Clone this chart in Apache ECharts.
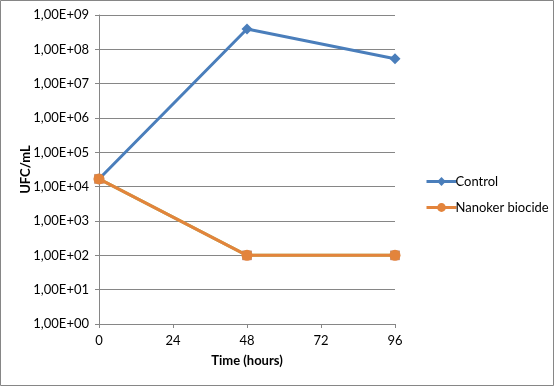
<!DOCTYPE html>
<html>
<head>
<meta charset="utf-8">
<script src="https://cdn.jsdelivr.net/npm/echarts@6/dist/echarts.min.js"></script>
<style>
html,body{margin:0;padding:0;background:#fff;}
#c{width:555px;height:387px;}
</style>
</head>
<body>
<div id="c"></div>
<script>
var hours = [0, 48, 96];
var controlValues = [16800, 390000000, 53000000];
var nanokerValues = [16800, 100, 100];
var hiddenValues = [16800, 100, 100];
var xTicks = [0, 24, 48, 72, 96];

var FONT = 'Lato';
var chart = echarts.init(document.getElementById('c'), null, {renderer: 'canvas'});

function pairs(xs, ys) { return xs.map(function (x, i) { return [x, ys[i]]; }); }

chart.setOption({
  animation: false,
  backgroundColor: '#fff',
  graphic: [{
    type: 'rect', z: 100, silent: true,
    shape: {x: 0.5, y: 0.5, width: 553, height: 385},
    style: {fill: 'none', stroke: '#868686', lineWidth: 1}
  }],
  grid: {left: 99, right: 160, top: 15, bottom: 63},
  legend: {
    left: 420, top: 170, orient: 'vertical', itemWidth: 30, itemHeight: 11, itemGap: 13,
    data: ['Control', 'Nanoker biocide'],
    lineStyle: {width: 3},
    textStyle: {fontFamily: FONT, fontSize: 13, color: '#000', padding: [0, 0, 0, -6]}
  },
  xAxis: {
    type: 'value', min: 0, max: 96, interval: 24,
    name: 'Time (hours)', nameLocation: 'middle', nameGap: 30,
    nameTextStyle: {fontFamily: FONT, fontSize: 13, fontWeight: 'bold', color: '#000'},
    axisLine: {lineStyle: {color: '#868686'}},
    axisTick: {show: true, length: 4, lineStyle: {color: '#868686'}},
    axisLabel: {fontFamily: FONT, fontSize: 13, color: '#000', margin: 10,
      formatter: function (v) { return xTicks.indexOf(v) >= 0 ? String(v) : ''; }},
    splitLine: {show: false}
  },
  yAxis: {
    type: 'log', logBase: 10, min: 1, max: 1e9,
    name: 'UFC/mL', nameLocation: 'middle', nameGap: 67, nameRotate: 90,
    nameMoveOverlap: false,
    nameTextStyle: {fontFamily: FONT, fontSize: 13, fontWeight: 'bold', color: '#000'},
    axisLine: {show: true, lineStyle: {color: '#868686'}},
    axisTick: {show: true, length: 4, lineStyle: {color: '#868686'}},
    axisLabel: {fontFamily: FONT, fontSize: 13, color: '#000', margin: 10,
      formatter: function (v) {
        var e = Math.round(Math.log10(v));
        return '1,00E+' + (e < 10 ? '0' : '') + e;
      }},
    splitLine: {show: true, lineStyle: {color: '#868686'}}
  },
  series: [
    {
      name: 'hidden', type: 'line', data: pairs(hours, hiddenValues),
      symbol: 'rect', symbolSize: 9, z: 1,
      lineStyle: {color: '#9bbb59', width: 3},
      itemStyle: {color: '#9bbb59', borderColor: '#c0504d', borderWidth: 0.5}
    },
    {
      name: 'Control', type: 'line', data: pairs(hours, controlValues),
      symbol: 'diamond', symbolSize: 11, z: 3,
      lineStyle: {color: '#4a7ebb', width: 3},
      itemStyle: {color: '#4a7ebb'}
    },
    {
      name: 'Nanoker biocide', type: 'line', data: pairs(hours, nanokerValues),
      symbol: 'circle', symbolSize: 11, z: 4,
      lineStyle: {color: '#e3843c', width: 3},
      itemStyle: {color: '#e3843c'}
    }
  ]
});
</script>
</body>
</html>
